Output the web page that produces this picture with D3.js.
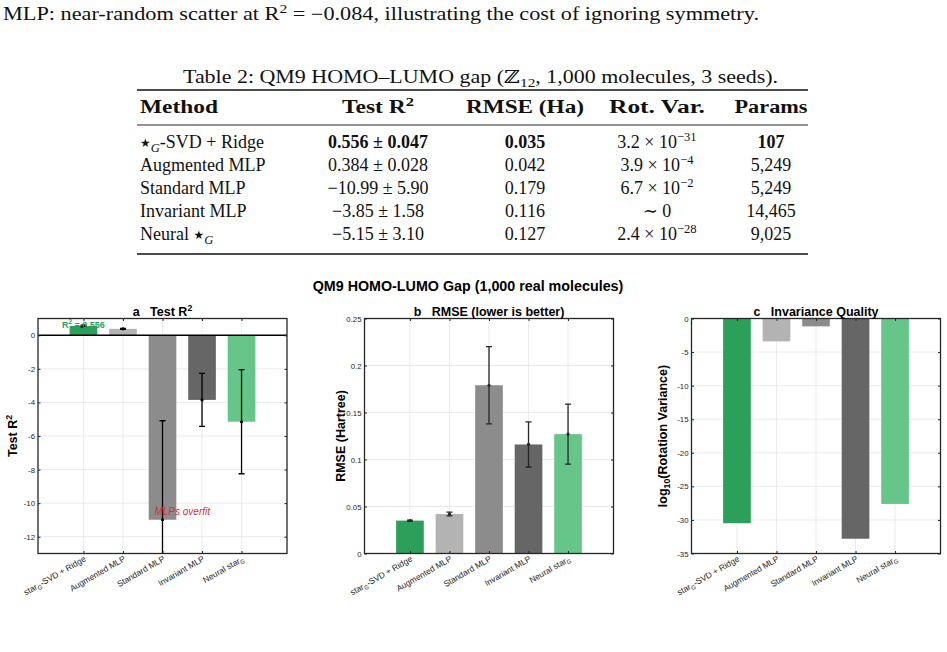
<!DOCTYPE html>
<html lang="en">
<head>
<meta charset="UTF-8">
<title>QM9 HOMO-LUMO gap</title>
<script src="https://d3js.org/d3.v7.min.js"></script>
<style>
    body { margin: 0; background: #fff; }
    svg { display: block; }
    .serif { font-family: "Liberation Serif", "DejaVu Serif", serif; fill: #111; }
    .sans { font-family: "Liberation Sans", Arial, Helvetica, sans-serif; }
    .tick text { font-family: "Liberation Sans", Arial, sans-serif; fill: #262626; }
</style>
</head>
<body>
<svg width="947" height="652"></svg>
<script>
    // ---- data ----
    const categories = ["star_{G}-SVD + Ridge", "Augmented MLP", "Standard MLP", "Invariant MLP", "Neural star_{G}"];
    const barColors = ["#2ca05a", "#b3b3b3", "#8c8c8c", "#666666", "#66c68a"];
    const r2Mean = [0.556, 0.384, -10.99, -3.85, -5.15];
    const r2Std = [0.047, 0.028, 5.90, 1.58, 3.10];
    const rmseMean = [0.035, 0.042, 0.179, 0.116, 0.127];
    const rmseErr = [0.0005, 0.002, 0.041, 0.024, 0.032];
    const logRotVar = [-30.49, -3.41, -1.17, -32.8, -27.62];

    // table
    const tableHeader = ["Method", "Test R^{2}", "RMSE (Ha)", "Rot. Var.", "Params"];
    const headerWidth = [78, 72, 118, 96, 73];
    const tableMethod = ["⋆_{G}-SVD + Ridge", "Augmented MLP", "Standard MLP", "Invariant MLP", "Neural ⋆_{G}"];
    const tableR2 = ["0.556 ± 0.047", "0.384 ± 0.028", "−10.99 ± 5.90", "−3.85 ± 1.58", "−5.15 ± 3.10"];
    const tableRmse = ["0.035", "0.042", "0.179", "0.116", "0.127"];
    const tableRot = ["3.2 × 10^{−31}", "3.9 × 10^{−4}", "6.7 × 10^{−2}", "∼ 0", "2.4 × 10^{−28}"];
    const tableParams = ["107", "5,249", "5,249", "14,465", "9,025"];
    const boldRow = 0; // best method row, bold in R2 / RMSE / Params

    const svg = d3.select("svg");
    svg.append("rect").attr("width", 947).attr("height", 652).attr("fill", "#fff");

    // write a string with _{..} and ^{..} as sub/superscripts, ⋆ as a star glyph
    function rich(textSel, str, size, italicSub) {
        const parts = str.split(/([_^]\{[^}]*\}|⋆)/).filter(s => s.length);
        let off = 0;
        parts.forEach(p => {
            let target = 0, txt = p, fs = null, it = false, fam = null;
            if (p[0] === "_") { target = size * 0.24; txt = p.slice(2, -1); fs = size * 0.7; it = italicSub && /^[A-Za-z]+$/.test(txt); }
            else if (p[0] === "^") { target = -size * 0.4; txt = p.slice(2, -1); fs = size * 0.7; }
            else if (p === "⋆") { txt = "★"; fs = size * 0.66; fam = "DejaVu Sans"; target = -size * 0.05; }
            const t = textSel.append("tspan").attr("dy", target - off).text(txt);
            if (fs) t.attr("font-size", fs);
            if (it) t.attr("font-style", "italic");
            if (fam) t.attr("font-family", fam);
            off = target;
        });
        return textSel;
    }

    // ---- running text and table ----
    const bodySize = 18;
    rich(svg.append("text").attr("class", "serif").attr("x", 3).attr("y", 20)
        .attr("font-size", bodySize).attr("textLength", 756).attr("lengthAdjust", "spacingAndGlyphs"),
        "MLP: near-random scatter at R^{2} = −0.084, illustrating the cost of ignoring symmetry.", bodySize);

    rich(svg.append("text").attr("class", "serif").attr("x", 183).attr("y", 83)
        .attr("font-size", bodySize).attr("textLength", 595).attr("lengthAdjust", "spacingAndGlyphs"),
        "Table 2: QM9 HOMO–LUMO gap (ℤ_{12}, 1,000 molecules, 3 seeds).", bodySize);

    const tableLeft = 137, tableRight = 808;
    const colX = [140, 378, 525, 657, 771];
    const rowY = d3.range(5).map(i => 148 + i * 23);

    svg.append("line").attr("x1", tableLeft).attr("x2", tableRight).attr("y1", 90).attr("y2", 90)
        .attr("stroke", "#111").attr("stroke-width", 1.5);
    svg.append("line").attr("x1", tableLeft).attr("x2", tableRight).attr("y1", 125).attr("y2", 125)
        .attr("stroke", "#111").attr("stroke-width", 0.9);
    svg.append("line").attr("x1", tableLeft).attr("x2", tableRight).attr("y1", 254).attr("y2", 254)
        .attr("stroke", "#111").attr("stroke-width", 1.5);

    tableHeader.forEach((h, j) => {
        rich(svg.append("text").attr("class", "serif")
            .attr("x", j === 0 ? colX[j] : colX[j] - headerWidth[j] / 2).attr("y", 113)
            .attr("textLength", headerWidth[j]).attr("lengthAdjust", "spacingAndGlyphs")
            .attr("font-size", bodySize).attr("font-weight", "bold"), h, bodySize);
    });

    const tableCols = [tableMethod, tableR2, tableRmse, tableRot, tableParams];
    tableCols.forEach((col, j) => {
        col.forEach((v, i) => {
            const t = svg.append("text").attr("class", "serif")
                .attr("x", colX[j]).attr("y", rowY[i])
                .attr("text-anchor", j === 0 ? "start" : "middle")
                .attr("font-size", bodySize);
            if (i === boldRow && (j === 1 || j === 2 || j === 4)) t.attr("font-weight", "bold");
            rich(t, v, bodySize, true);
        });
    });

    // ---- figure ----
    svg.append("text").attr("class", "sans").attr("x", 468).attr("y", 291)
        .attr("text-anchor", "middle").attr("font-size", 14.3).attr("font-weight", "bold")
        .attr("fill", "#000").text("QM9 HOMO-LUMO Gap (1,000 real molecules)");

    const pw = 249, plotTop = 318.5, plotBottom = 553.5;
    const tickLen = 2.5;

    const panels = [
        { left: 38, title: "a\u00a0\u00a0\u00a0Test R^{2}", ylabel: "Test R^{2}", domain: [-13, 1],
          ticks: d3.range(-12, 1, 2), values: r2Mean, err: r2Std, errColor: "#000", fmt: d => String(d) },
        { left: 364.5, title: "b\u00a0\u00a0\u00a0RMSE (lower is better)", ylabel: "RMSE (Hartree)", domain: [0, 0.25],
          ticks: d3.range(0, 0.2501, 0.05), values: rmseMean, err: rmseErr, errColor: "#262626",
          fmt: d => String(+d.toFixed(2)) },
        { left: 691.5, title: "c\u00a0\u00a0\u00a0Invariance Quality", ylabel: "log_{10}(Rotation Variance)", domain: [-35, 0],
          ticks: d3.range(-35, 1, 5), values: logRotVar, err: null, fmt: d => String(d) }
    ];

    panels.forEach((p, k) => {
        const g = svg.append("g");
        const x = d3.scaleLinear().domain([-0.15, 6.15]).range([p.left, p.left + pw]);
        const y = d3.scaleLinear().domain(p.domain).range([plotBottom, plotTop]);
        const xs = categories.map((c, i) => i + 1);
        const clipId = "clip" + k;
        svg.append("clipPath").attr("id", clipId).append("rect")
            .attr("x", p.left).attr("y", plotTop).attr("width", pw).attr("height", plotBottom - plotTop);

        // grid
        g.append("g").selectAll("line").data(p.ticks).join("line")
            .attr("x1", p.left).attr("x2", p.left + pw)
            .attr("y1", d => y(d)).attr("y2", d => y(d))
            .attr("stroke", "#e3e3e3").attr("stroke-width", 0.7);
        g.append("g").selectAll("line").data(xs).join("line")
            .attr("x1", d => x(d)).attr("x2", d => x(d))
            .attr("y1", plotTop).attr("y2", plotBottom)
            .attr("stroke", "#e3e3e3").attr("stroke-width", 0.7);

        // bars
        const bw = x(0.7) - x(0);
        g.append("g").attr("clip-path", `url(#${clipId})`)
            .selectAll("rect").data(p.values).join("rect")
            .attr("x", (d, i) => x(xs[i]) - bw / 2)
            .attr("width", bw)
            .attr("y", d => y(Math.max(0, d)))
            .attr("height", d => Math.abs(y(d) - y(0)))
            .attr("fill", (d, i) => barColors[i]);

        if (k === 0) {
            g.append("line").attr("x1", p.left).attr("x2", p.left + pw)
                .attr("y1", y(0)).attr("y2", y(0)).attr("stroke", "#000").attr("stroke-width", 1.5);
        }

        // error bars
        if (p.err) {
            const eb = g.append("g").attr("clip-path", `url(#${clipId})`)
                .attr("stroke", p.errColor).attr("stroke-width", 1.3);
            p.values.forEach((v, i) => {
                const cx = x(xs[i]);
                const lo = y(v - p.err[i]), hi = y(v + p.err[i]);
                eb.append("line").attr("x1", cx).attr("x2", cx).attr("y1", lo).attr("y2", hi);
                eb.append("line").attr("x1", cx - 3).attr("x2", cx + 3).attr("y1", lo).attr("y2", lo);
                eb.append("line").attr("x1", cx - 3).attr("x2", cx + 3).attr("y1", hi).attr("y2", hi);
                eb.append("circle").attr("cx", cx).attr("cy", y(v)).attr("r", 1.6)
                    .attr("fill", p.errColor).attr("stroke", "none");
            });
        }

        // axes (MATLAB style: inward ticks, box)
        g.append("g").attr("transform", `translate(${p.left},0)`)
            .call(d3.axisLeft(y).tickValues(p.ticks).tickFormat(p.fmt)
                .tickSizeInner(-tickLen).tickSizeOuter(0).tickPadding(3))
            .call(a => a.select(".domain").remove())
            .call(a => a.selectAll("line").attr("stroke", "#262626"))
            .call(a => a.selectAll("text").attr("font-size", 7.8));
        g.append("g").attr("transform", `translate(${p.left + pw},0)`)
            .call(d3.axisRight(y).tickValues(p.ticks).tickFormat("")
                .tickSizeInner(-tickLen).tickSizeOuter(0))
            .call(a => a.select(".domain").remove())
            .call(a => a.selectAll("line").attr("stroke", "#262626"));
        g.append("g").attr("transform", `translate(0,${plotBottom})`)
            .call(d3.axisBottom(x).tickValues(xs).tickFormat("")
                .tickSizeInner(-tickLen).tickSizeOuter(0))
            .call(a => a.select(".domain").remove())
            .call(a => a.selectAll("line").attr("stroke", "#262626"));
        g.append("g").attr("transform", `translate(0,${plotTop})`)
            .call(d3.axisTop(x).tickValues(xs).tickFormat("")
                .tickSizeInner(-tickLen).tickSizeOuter(0))
            .call(a => a.select(".domain").remove())
            .call(a => a.selectAll("line").attr("stroke", "#262626"));
        g.append("rect").attr("x", p.left).attr("y", plotTop).attr("width", pw).attr("height", plotBottom - plotTop)
            .attr("fill", "none").attr("stroke", "#262626").attr("stroke-width", 1.3);

        // category labels
        categories.forEach((c, i) => {
            const t = g.append("text").attr("class", "sans")
                .attr("text-anchor", "end").attr("font-size", 8.4).attr("fill", "#262626")
                .attr("transform", `translate(${x(xs[i]) + 3},${plotBottom + 7}) rotate(-30)`);
            rich(t, c, 8.4);
        });

        // titles
        rich(g.append("text").attr("class", "sans").attr("x", p.left + pw / 2).attr("y", plotTop - 3)
            .attr("text-anchor", "middle").attr("font-size", 12.5).attr("font-weight", "bold")
            .attr("fill", "#000"), p.title, 12.5);
        rich(g.append("text").attr("class", "sans").attr("text-anchor", "middle")
            .attr("font-size", 12.5).attr("font-weight", "bold").attr("fill", "#000")
            .attr("transform", `translate(${p.left - 20 - (k === 2 ? 5 : 0) + (k === 0 ? -1 : 0)},${(plotTop + plotBottom) / 2}) rotate(-90)`),
            p.ylabel, 12.5);

        // annotations on panel a
        if (k === 0) {
            rich(g.append("text").attr("class", "sans").attr("x", x(1)).attr("y", y(0.45))
                .attr("text-anchor", "middle").attr("font-size", 9).attr("font-weight", "bold")
                .attr("fill", "#2ca05a"), "R^{2} = 0.556", 9);
            g.append("text").attr("class", "sans").attr("x", x(3.5)).attr("y", y(-10.5) + 3.5)
                .attr("text-anchor", "middle").attr("font-size", 10).attr("font-style", "italic")
                .attr("fill", "#cc3333").text("MLPs overfit");
        }
    });
</script>
</body>
</html>
